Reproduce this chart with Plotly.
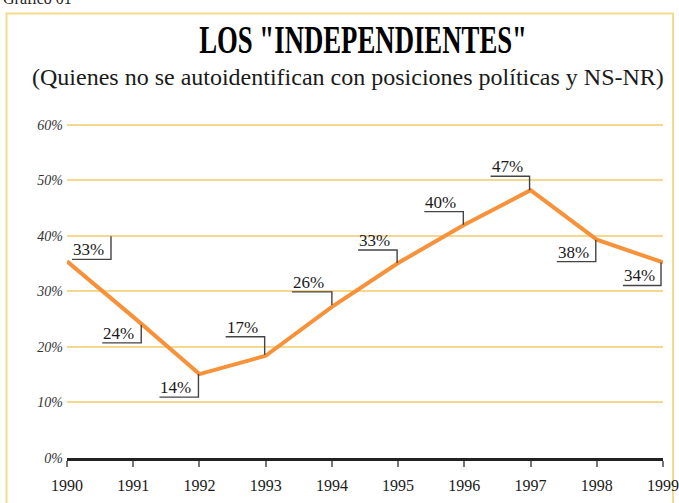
import plotly.graph_objects as go

# ---- data ----
years = [1990, 1991, 1992, 1993, 1994, 1995, 1996, 1997, 1998, 1999]
values = [35.4, 25.4, 15.1, 18.4, 27.2, 35.1, 42.0, 48.2, 39.3, 35.2]   # plotted line (as drawn)
labels = ["33%", "24%", "14%", "17%", "26%", "33%", "40%", "47%", "38%", "34%"]  # printed labels
y_ticks = [0, 10, 20, 30, 40, 50, 60]
y_tick_labels = ["0%", "10%", "20%", "30%", "40%", "50%", "60%"]

title = 'LOS "INDEPENDIENTES"'
subtitle = "(Quienes no se autoidentifican con posiciones políticas y NS-NR)"
corner_text = "Gráfico 01"

# callout geometry (pixel offsets from each point, y up): left x, right x, underline y, vertical end y
callouts = [
    (5, 44, 2, 25),
    (-31, 8, -26, -8),
    (-40, -1, -23, 0),
    (-40, -1, 19, 1),
    (-40, 0, 15, 2),
    (-40, -1, 13, 0),
    (-40, -1, 13, 0),
    (-40, -1, 14, 0),
    (-40, -1, -22, 0),
    (-40, -2, -23, 0),
]

ORANGE = "#F7923A"
GOLD = "#F5D890"
SERIF = "Liberation Serif"

# plot area in pixels
L, R, T, B = 67, 663, 125, 458
W, H = 679, 503
YMAX = 60.3
T_adj = B - (B - T) * YMAX / 60.0
pw, ph = R - L, B - T_adj


def px(xp):
    return (xp - L) / pw


def py(yp):
    return (B - yp) / ph


fig = go.Figure()
fig.add_trace(go.Scatter(
    x=years, y=values, mode="lines",
    line=dict(color=ORANGE, width=4),
    hoverinfo="skip", showlegend=False,
))

shapes = []
annotations = []
for yr, v, lab, (xl, xr, yu, yv) in zip(years, values, labels, callouts):
    shapes.append(dict(
        type="path", xref="x", yref="y",
        xsizemode="pixel", ysizemode="pixel",
        xanchor=yr, yanchor=v,
        path=f"M {xl},{yu} L {xr},{yu} L {xr},{yv}",
        line=dict(color="#444444", width=1.4),
    ))
    annotations.append(dict(
        x=yr, y=v, xref="x", yref="y", text=lab, showarrow=False,
        xanchor="left", yanchor="bottom", xshift=xl, yshift=yu - 1,
        borderpad=0,
        font=dict(family=SERIF, size=17, color="#1a1a1a"),
    ))

# frame
shapes.append(dict(
    type="rect", xref="paper", yref="paper",
    x0=px(6.5), x1=px(673), y0=py(530), y1=py(14),
    line=dict(color="#F5DC8C", width=2), layer="below",
))

annotations += [
    dict(text="<b>" + title + "</b>", xref="paper", yref="paper", x=px(363), y=py(40),
         xanchor="center", yanchor="middle", showarrow=False,
         font=dict(family=SERIF, size=40, color="#000000")),
    dict(text=subtitle, xref="paper", yref="paper", x=px(348), y=py(77),
         xanchor="center", yanchor="middle", showarrow=False,
         font=dict(family=SERIF, size=24, color="#1a1a1a")),
    dict(text=corner_text, xref="paper", yref="paper", x=px(1), y=py(9),
         xanchor="left", yanchor="bottom", showarrow=False,
         font=dict(family=SERIF, size=16, color="#222222")),
]

fig.update_layout(
    width=W, height=H,
    margin=dict(l=L, r=W - R, t=T_adj, b=H - B, autoexpand=False),
    paper_bgcolor="white", plot_bgcolor="white",
    shapes=shapes, annotations=annotations,
    showlegend=False,
    xaxis=dict(
        range=[1990, 1999], tickvals=years, ticktext=[str(y) for y in years],
        showgrid=False, zeroline=False, automargin=False,
        showline=True, linecolor="#222222", linewidth=3,
        ticks="outside", ticklen=6, tickwidth=2, tickcolor="#777777",
        tickfont=dict(family=SERIF, size=16, color="#1a1a1a"),
        ticklabelstandoff=5,
        fixedrange=True,
    ),
    yaxis=dict(
        range=[0, YMAX], tickvals=y_ticks, ticktext=[f"<i>{t}</i>" for t in y_tick_labels],
        showgrid=True, gridcolor=GOLD, gridwidth=1.5,
        zeroline=False, showline=False, ticks="", automargin=False,
        tickfont=dict(family=SERIF, size=14, color="#333333"),
        ticklabelstandoff=3,
        fixedrange=True,
    ),
)

# compress the display title horizontally (condensed poster face in the original)
post = """
document.body.style.margin = '0';
var gd = document.getElementById('{plot_id}');
gd.querySelectorAll('text.annotation-text').forEach(function (el) {
  if (el.textContent.indexOf('INDEPENDIENTES') >= 0) {
    var w = el.getComputedTextLength();
    var s = 328 / w;
    var cx = parseFloat(el.getAttribute('x')) || 0;
    el.setAttribute('transform', 'translate(' + cx + ',0) scale(' + s + ',1) translate(' + (-cx) + ',0)');
  }
});
"""

fig.write_html("out.html", post_script=post, config={"displayModeBar": False})
